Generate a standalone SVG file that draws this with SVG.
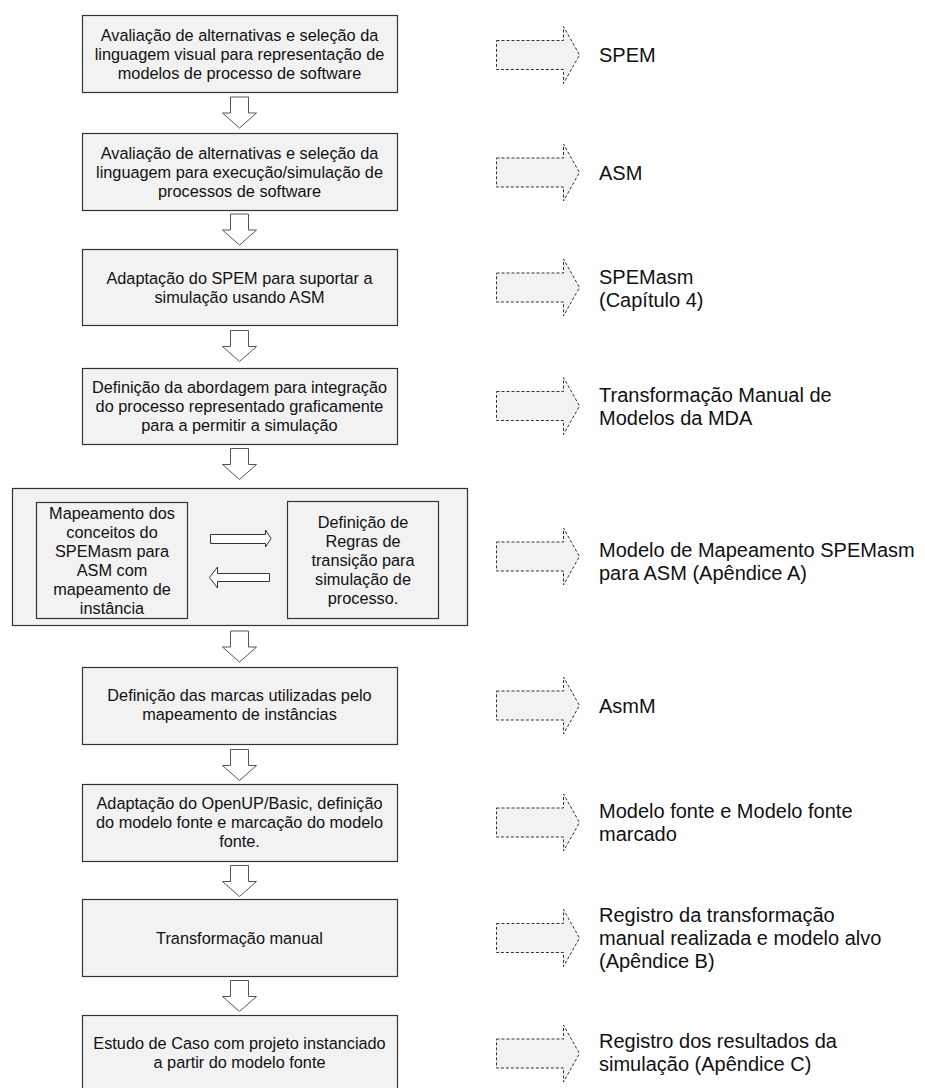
<svg xmlns="http://www.w3.org/2000/svg" xmlns:xlink="http://www.w3.org/1999/xlink" width="925" height="1088" viewBox="0 0 925 1088">
  <style>
    .box { fill: #f2f2f2; stroke: #333333; stroke-width: 1.2; }
    .t { font-family: "Liberation Sans", Arial, sans-serif; font-size: 16.3px; fill: #111111; text-anchor: middle; }
    .r { font-family: "Liberation Sans", Arial, sans-serif; font-size: 20px; fill: #111111; }
    .down { fill: #ffffff; stroke: #555555; stroke-width: 1; }
    .out { fill: #f2f2f2; stroke: #333333; stroke-width: 1; stroke-dasharray: 3 2; }
    .side { fill: #ffffff; stroke: #333333; stroke-width: 1; }
  </style>
  <defs>
    <!-- hollow block arrow pointing down, origin at top centre -->
    <path id="downArrow" class="down" d="M-9,0 H9 V16 H17 L0,31 L-17,16 H-9 Z"/>
    <!-- dashed block arrow pointing right, origin at left end on the axis -->
    <path id="outArrow" class="out" d="M0,-14.5 H67 V-28.5 L83,0 L67,28.5 V14.5 H0 Z"/>
  </defs>

  <rect width="925" height="1088" fill="#ffffff"/>

  <!-- flow connectors -->
  <g id="connectors">
    <use xlink:href="#downArrow" x="239.5" y="97"/>
    <use xlink:href="#downArrow" x="239.5" y="214"/>
    <use xlink:href="#downArrow" x="239.5" y="330.5"/>
    <use xlink:href="#downArrow" x="239.5" y="448.5"/>
    <use xlink:href="#downArrow" x="239.5" y="631"/>
    <use xlink:href="#downArrow" x="239.5" y="749.5"/>
    <use xlink:href="#downArrow" x="239.5" y="865.5"/>
    <use xlink:href="#downArrow" x="239.5" y="980.5"/>

    <use xlink:href="#outArrow" x="496.5" y="55"/>
    <use xlink:href="#outArrow" x="496.5" y="172.5"/>
    <use xlink:href="#outArrow" x="496.5" y="287.5"/>
    <use xlink:href="#outArrow" x="496.5" y="406"/>
    <use xlink:href="#outArrow" x="496.5" y="556.5"/>
    <use xlink:href="#outArrow" x="496.5" y="705.5"/>
    <use xlink:href="#outArrow" x="496.5" y="822.5"/>
    <use xlink:href="#outArrow" x="496.5" y="938"/>
    <use xlink:href="#outArrow" x="496.5" y="1053.5"/>
  </g>

  <!-- process steps -->
  <g id="step1">
    <rect class="box" x="82.5" y="15.5" width="315" height="77"/>
    <text class="t" x="239.5" y="40.5">Avaliação de alternativas e seleção da</text>
    <text class="t" x="239.5" y="59.5">linguagem visual para representação de</text>
    <text class="t" x="239.5" y="78.5">modelos de processo de software</text>
  </g>
  <g id="step2">
    <rect class="box" x="82.5" y="133.5" width="315" height="77"/>
    <text class="t" x="239.5" y="158.5">Avaliação de alternativas e seleção da</text>
    <text class="t" x="239.5" y="177.5">linguagem para execução/simulação de</text>
    <text class="t" x="239.5" y="196.5">processos de software</text>
  </g>
  <g id="step3">
    <rect class="box" x="82.5" y="249.5" width="315" height="76"/>
    <text class="t" x="239.5" y="283.5">Adaptação do SPEM para suportar a</text>
    <text class="t" x="239.5" y="302.5">simulação usando ASM</text>
  </g>
  <g id="step4">
    <rect class="box" x="82.5" y="368.5" width="315" height="76"/>
    <text class="t" x="239.5" y="393">Definição da abordagem para integração</text>
    <text class="t" x="239.5" y="412">do processo representado graficamente</text>
    <text class="t" x="239.5" y="431">para a permitir a simulação</text>
  </g>
  <g id="step5">
    <rect class="box" x="12.5" y="488.5" width="455" height="137"/>
    <g id="step5-mapping">
      <rect class="box" x="36.5" y="502.5" width="151" height="116"/>
      <text class="t" x="112" y="518.5">Mapeamento dos</text>
      <text class="t" x="112" y="537.5">conceitos do</text>
      <text class="t" x="112" y="556.5">SPEMasm para</text>
      <text class="t" x="112" y="575.5">ASM com</text>
      <text class="t" x="112" y="594.5">mapeamento de</text>
      <text class="t" x="112" y="613.5">instância</text>
    </g>
    <g id="step5-rules">
      <rect class="box" x="287.5" y="501.5" width="151" height="117"/>
      <text class="t" x="363" y="528">Definição de</text>
      <text class="t" x="363" y="547">Regras de</text>
      <text class="t" x="363" y="566">transição para</text>
      <text class="t" x="363" y="585">simulação de</text>
      <text class="t" x="363" y="604">processo.</text>
    </g>
    <path class="side" d="M210.5,534.5 H265.5 V530 L271,538.5 L265.5,547 V543.5 H210.5 Z"/>
    <path class="side" d="M269.5,573.5 H217.5 V567 L209.5,577.5 L217.5,588 V581.5 H269.5 Z"/>
  </g>
  <g id="step6">
    <rect class="box" x="82.5" y="667.5" width="315" height="77"/>
    <text class="t" x="239.5" y="701">Definição das marcas utilizadas pelo</text>
    <text class="t" x="239.5" y="720">mapeamento de instâncias</text>
  </g>
  <g id="step7">
    <rect class="box" x="82.5" y="784.5" width="315" height="77"/>
    <text class="t" x="239.5" y="808.5">Adaptação do OpenUP/Basic, definição</text>
    <text class="t" x="239.5" y="827.5">do modelo fonte e marcação do modelo</text>
    <text class="t" x="239.5" y="846.5">fonte.</text>
  </g>
  <g id="step8">
    <rect class="box" x="82.5" y="899.5" width="315" height="77"/>
    <text class="t" x="239.5" y="943.5">Transformação manual</text>
  </g>
  <g id="step9">
    <rect class="box" x="82.5" y="1015.5" width="315" height="77"/>
    <text class="t" x="239.5" y="1048.5">Estudo de Caso com projeto instanciado</text>
    <text class="t" x="239.5" y="1067.5">a partir do modelo fonte</text>
  </g>

  <!-- results of each step -->
  <g id="result1"><text class="r" x="599" y="62">SPEM</text></g>
  <g id="result2"><text class="r" x="599" y="179.5">ASM</text></g>
  <g id="result3">
    <text class="r" x="599" y="284">SPEMasm</text>
    <text class="r" x="599" y="307">(Capítulo 4)</text>
  </g>
  <g id="result4">
    <text class="r" x="599" y="402">Transformação Manual de</text>
    <text class="r" x="599" y="425">Modelos da MDA</text>
  </g>
  <g id="result5">
    <text class="r" x="599" y="557">Modelo de Mapeamento SPEMasm</text>
    <text class="r" x="599" y="580">para ASM (Apêndice A)</text>
  </g>
  <g id="result6"><text class="r" x="599" y="712.5">AsmM</text></g>
  <g id="result7">
    <text class="r" x="599" y="818">Modelo fonte e Modelo fonte</text>
    <text class="r" x="599" y="841">marcado</text>
  </g>
  <g id="result8">
    <text class="r" x="599" y="922">Registro da transformação</text>
    <text class="r" x="599" y="945">manual realizada e modelo alvo</text>
    <text class="r" x="599" y="968">(Apêndice B)</text>
  </g>
  <g id="result9">
    <text class="r" x="599" y="1048">Registro dos resultados da</text>
    <text class="r" x="599" y="1071">simulação (Apêndice C)</text>
  </g>
</svg>
